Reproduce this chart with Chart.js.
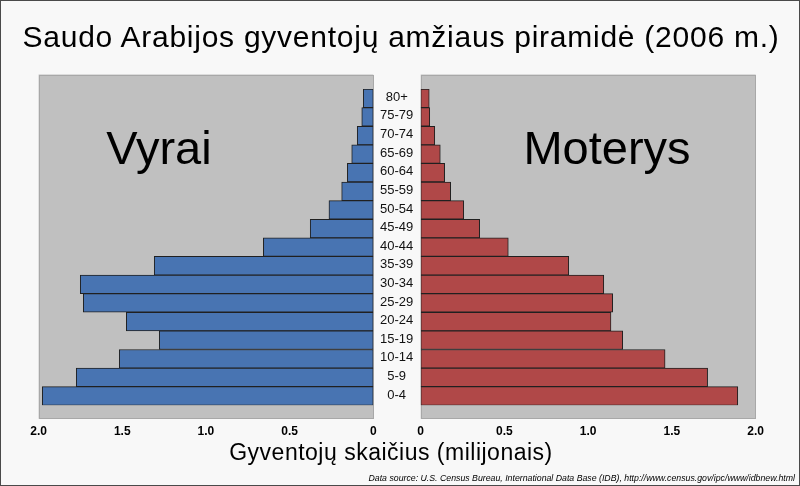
<!DOCTYPE html>
<html><head><meta charset="utf-8">
<script src="https://cdn.jsdelivr.net/npm/chart.js@4"></script>
<style>
html,body{margin:0;padding:0;background:#f8f8f8}
#wrap{position:relative;width:800px;height:486px;background:#f8f8f8;overflow:hidden;font-family:"Liberation Sans",Arial,sans-serif}
canvas{position:absolute;left:0;top:0}
.t{position:absolute;white-space:nowrap;line-height:1;color:#000;margin:0}
#frame{position:absolute;left:0;top:0;width:800px;height:486px;box-sizing:border-box;border:1px solid #4a4a4a;pointer-events:none}
</style></head><body>
<div id="wrap">
<canvas id="cl" width="800" height="486"></canvas>
<canvas id="cr" width="800" height="486"></canvas>
<div class="t" id="title" style="left:0;width:802px;text-align:center;top:22px;font-size:30px;letter-spacing:0.75px">Saudo Arabijos gyventojų amžiaus piramidė (2006 m.)</div>
<div class="t" style="left:59px;width:200px;text-align:center;top:124px;font-size:47px">Vyrai</div>
<div class="t" style="left:457px;width:300px;text-align:center;top:124px;font-size:47px">Moterys</div>
<div class="t" style="left:191px;width:400px;text-align:center;top:441px;font-size:23px;letter-spacing:0.5px">Gyventojų skaičius (milijonais)</div>
<div class="t" style="right:5px;top:474px;font-size:8.75px;font-style:italic">Data source: U.S. Census Bureau, International Data Base (IDB), http://www.census.gov/ipc/www/idbnew.html</div>
<div id="frame"></div>
</div>
<script>
const ageGroups = ["80+","75-79","70-74","65-69","60-64","55-59","50-54","45-49","40-44","35-39","30-34","25-29","20-24","15-19","10-14","5-9","0-4"];
const males   = [0.060,0.069,0.096,0.129,0.155,0.189,0.265,0.377,0.657,1.309,1.751,1.733,1.476,1.279,1.518,1.775,1.978];
const females = [0.051,0.054,0.084,0.117,0.143,0.179,0.257,0.352,0.523,0.884,1.093,1.146,1.136,1.206,1.459,1.713,1.893];
const xTickValues = [0,0.5,1,1.5,2];
const xTickLabels = ["0","0.5","1.0","1.5","2.0"];

const panelBg = {
  id:'panelBg',
  beforeDraw(c){
    const a=c.chartArea, ctx=c.ctx;
    ctx.save();
    ctx.fillStyle='#c0c0c0';
    const top=a.top-14.5, h=(a.bottom-a.top)+28;
    ctx.fillRect(a.left,top,a.right-a.left,h);
    ctx.strokeStyle='#a8a8a8'; ctx.lineWidth=1;
    ctx.strokeRect(Math.round(a.left)+0.5,Math.round(top)+0.5,Math.round(a.right-a.left)-1,Math.round(h)-1);
    ctx.restore();
  }
};
const ageLabels = {
  id:'ageLabels',
  afterDraw(c){
    const ctx=c.ctx, ys=c.scales.y, a=c.chartArea;
    ctx.save();
    ctx.font='13px "Liberation Sans", Arial, sans-serif';
    ctx.fillStyle='#111';
    ctx.textAlign='center'; ctx.textBaseline='middle';
    ageGroups.forEach((g,i)=>ctx.fillText(g, a.left-24, ys.getPixelForValue(i)-1));
    ctx.restore();
  }
};

function makeChart(id, data, color, reverse, pad){
  return new Chart(document.getElementById(id), {
    type:'bar',
    data:{labels:ageGroups, datasets:[{data:data, backgroundColor:color, borderColor:'#202020', borderWidth:1, borderSkipped:false, barPercentage:1, categoryPercentage:1}]},
    options:{
      indexAxis:'y', responsive:false, animation:false, devicePixelRatio:1,
      layout:{padding:pad},
      plugins:{legend:{display:false}, tooltip:{enabled:false}},
      scales:{
        y:{display:false},
        x:{
          min:0, max:2, reverse:reverse,
          grid:{display:false, drawTicks:false}, border:{display:false},
          afterBuildTicks(s){ s.ticks = xTickValues.map(v=>({value:v})); },
          afterFit(s){ s.height = 80.7; },
          ticks:{padding:19, color:'#000', maxRotation:0, autoSkip:false,
            font:{family:'"Liberation Sans", Arial, sans-serif', size:12, weight:'bold'},
            callback:(v)=>xTickLabels[xTickValues.indexOf(v)]}
        }
      }
    },
    plugins: id==='cr' ? [panelBg, ageLabels] : [panelBg]
  });
}
makeChart('cl', males, '#4874b2', true, {left:38.6, right:426.7, top:89, bottom:0});
makeChart('cr', females, '#b04848', false, {left:420.7, right:44.3, top:89, bottom:0});
</script>
</body></html>
